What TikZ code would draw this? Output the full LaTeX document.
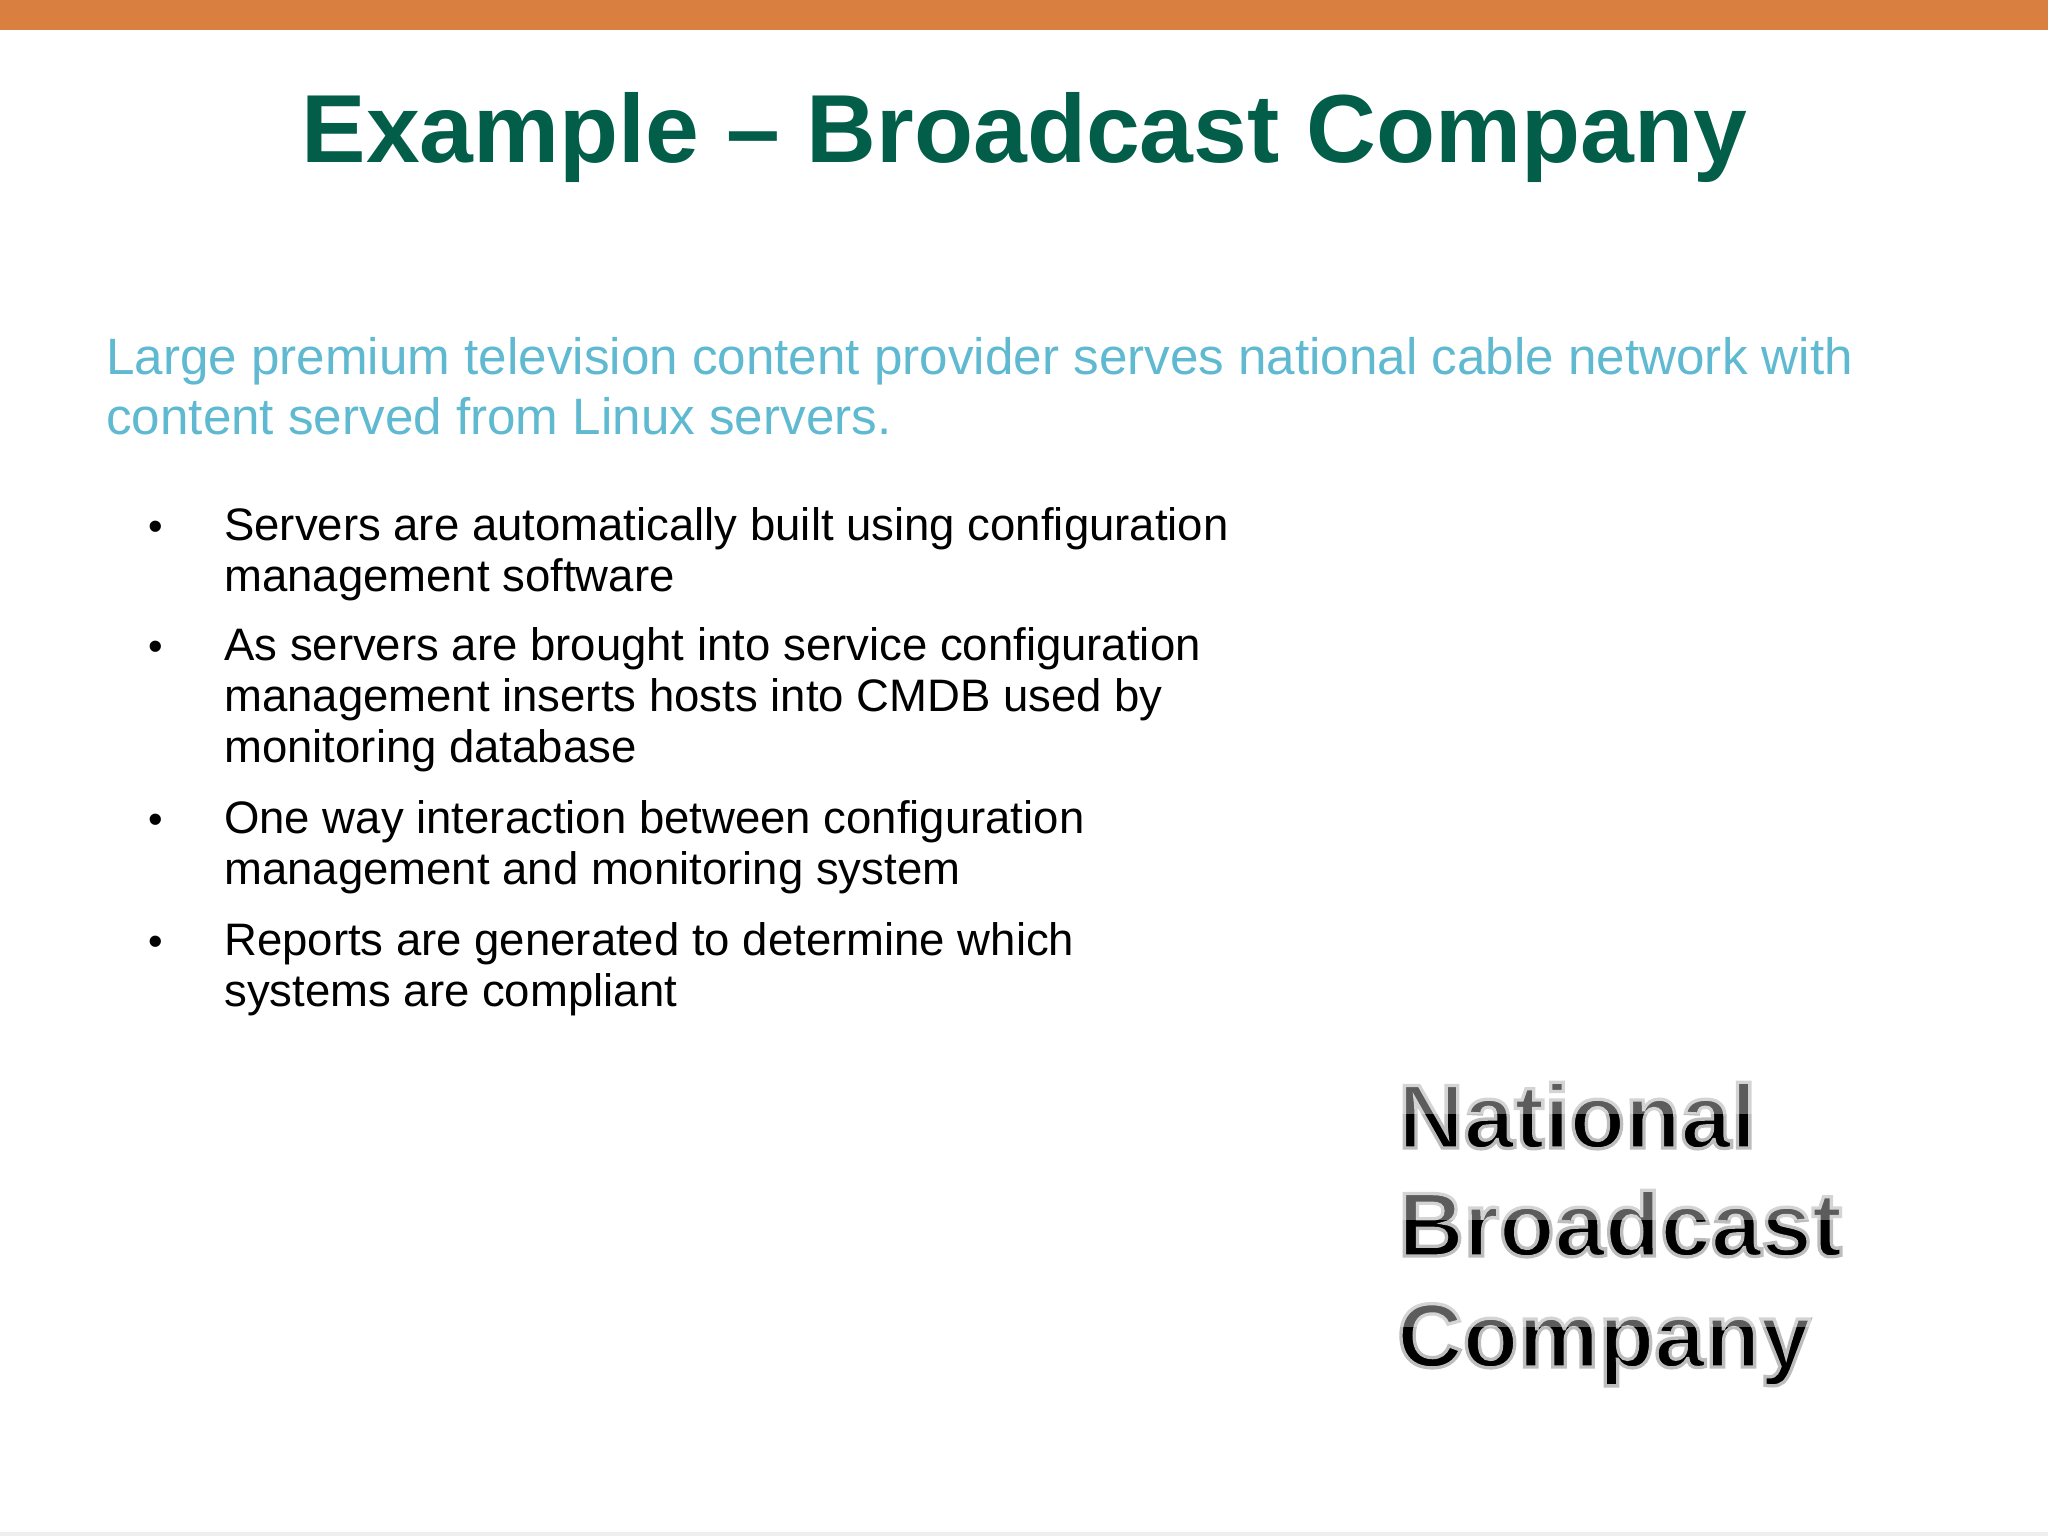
\documentclass[tikz,border=0pt]{standalone}
\usepackage{fontspec}
\setmainfont{Liberation Sans}
\definecolor{topbar}{HTML}{D97F3F}
\definecolor{titlegreen}{HTML}{025E49}
\definecolor{leadblue}{HTML}{5FB9D0}
\definecolor{footline}{HTML}{EEEEEE}
\tikzset{
  px/.style={x=0.0254cm,y=-0.0254cm},
  title/.style={anchor=center,text=titlegreen,font=\fontsize{69.9}{80}\selectfont\bfseries,inner sep=0pt},
  lead/.style={anchor=north west,text=leadblue,font=\fontsize{37}{43.4}\selectfont,align=left,inner sep=0pt},
  bullet/.style={anchor=north west,font=\fontsize{32.9}{36.9}\selectfont,align=left,inner sep=0pt},
  dot/.style={anchor=base,font=\fontsize{30}{36.9}\selectfont,inner sep=0pt},
  logo/.style={anchor=base west,text=black,font=\fontsize{65.6}{70}\selectfont\bfseries,inner sep=0pt},
  gloss/.style={fill=white,fill opacity=.36}
}
\newcommand{\halotext}[1]{\special{pdf:code q 2 Tr 2.4 w 0.74 G}#1\special{pdf:code Q}}
\begin{document}
\begin{tikzpicture}[px]
  \useasboundingbox (0,0) rectangle (2048,1536);
  \fill[topbar] (0,0) rectangle (2048,30);
  \fill[footline] (0,1532) rectangle (2048,1536);
  \node[title] (head) at (1024.5,137.5) {Example – Broadcast Company};
  \node[lead] (intro) at (106,337.5) {Large premium television content provider serves national cable network with\\content served from Linux servers.};
  \node[bullet] (b1) at (224,507) {Servers are automatically built using configuration\\management software};
  \node[bullet] (b2) at (224,627) {As servers are brought into service configuration\\management inserts hosts into CMDB used by\\monitoring database};
  \node[bullet] (b3) at (224,800) {One way interaction between configuration\\management and monitoring system};
  \node[bullet] (b4) at (224,922) {Reports are generated to determine which\\systems are compliant};
  \node[dot] (d1) at (155.5,540) {•};
  \node[dot] (d2) at (155.5,660) {•};
  \node[dot] (d3) at (155.5,833) {•};
  \node[dot] (d4) at (155.5,955) {•};
  \node[logo] (n1) at (1398,1148) {\halotext{National}};
  \node[logo] (n2) at (1398,1256) {\halotext{Broadcast}};
  \node[logo] (n3) at (1397,1367) {\halotext{Company}};
  \fill[gloss] (n1.west |- 0,1078) rectangle (n1.east |- 0,1114);
  \fill[gloss] (n2.west |- 0,1186) rectangle (n2.east |- 0,1220);
  \fill[gloss] (n3.west |- 0,1294) rectangle (n3.east |- 0,1327);
\end{tikzpicture}
\end{document}
